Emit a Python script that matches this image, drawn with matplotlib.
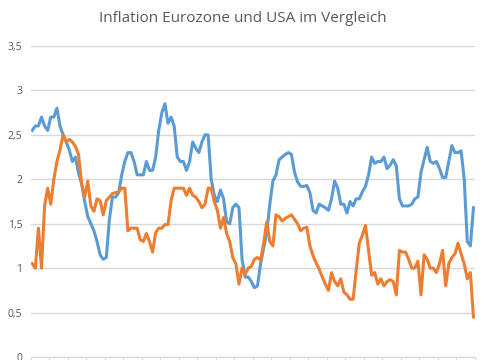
import matplotlib
matplotlib.use("Agg")
import matplotlib.pyplot as plt
import numpy as np

# Inflation (%), one value per two months
usa = [
    2.55, 2.6, 2.6, 2.7, 2.6, 2.55, 2.7, 2.7, 2.8, 2.6,
    2.5, 2.42, 2.33, 2.2, 2.25, 2.07, 1.95, 1.75, 1.58, 1.5,
    1.42, 1.3, 1.15, 1.1, 1.12, 1.55, 1.8, 1.8, 1.85, 2.05,
    2.2, 2.3, 2.3, 2.2, 2.05, 2.05, 2.05, 2.2, 2.1, 2.1,
    2.25, 2.55, 2.75, 2.85, 2.63, 2.7, 2.6, 2.25, 2.2, 2.2,
    2.1, 2.2, 2.42, 2.35, 2.3, 2.42, 2.5, 2.5, 2.0, 1.82,
    1.75, 1.88, 1.78, 1.52, 1.5, 1.68, 1.72, 1.68, 1.1, 0.9,
    0.9, 0.85, 0.78, 0.8, 1.05, 1.22, 1.4, 1.72, 1.98, 2.05,
    2.22, 2.25, 2.28, 2.3, 2.28, 2.08, 1.97, 1.92, 1.92, 1.93,
    1.85, 1.65, 1.62, 1.72, 1.7, 1.68, 1.65, 1.78, 1.98, 1.9,
    1.72, 1.72, 1.62, 1.75, 1.7, 1.78, 1.78, 1.86, 1.92, 2.05,
    2.25, 2.18, 2.2, 2.2, 2.25, 2.12, 2.16, 2.22, 2.15, 1.78,
    1.7, 1.7, 1.7, 1.72, 1.78, 1.8, 2.08, 2.22, 2.36, 2.2,
    2.18, 2.2, 2.12, 2.02, 2.02, 2.2, 2.38, 2.3, 2.3, 2.32,
    2.0, 1.3, 1.25, 1.68,
]
eurozone = [
    1.05, 1.0, 1.45, 1.0, 1.7, 1.9, 1.72, 2.0, 2.2, 2.33,
    2.5, 2.42, 2.45, 2.42, 2.37, 2.28, 1.95, 1.8, 1.98, 1.7,
    1.64, 1.78, 1.76, 1.6, 1.76, 1.8, 1.84, 1.85, 1.86, 1.9,
    1.9, 1.42, 1.45, 1.45, 1.45, 1.32, 1.3, 1.39, 1.3, 1.18,
    1.4, 1.45, 1.45, 1.49, 1.49, 1.76, 1.9, 1.9, 1.9, 1.9,
    1.82, 1.9, 1.82, 1.8, 1.75, 1.68, 1.72, 1.9, 1.9, 1.75,
    1.65, 1.45, 1.57, 1.39, 1.3, 1.12, 1.05, 0.82, 1.0, 0.93,
    1.0, 1.02, 1.1, 1.12, 1.09, 1.28, 1.52, 1.3, 1.25, 1.6,
    1.58, 1.53, 1.56, 1.58, 1.6, 1.55, 1.5, 1.42, 1.45, 1.46,
    1.25, 1.14, 1.06, 0.99, 0.9, 0.82, 0.75, 0.95, 0.85, 0.8,
    0.88, 0.73, 0.7, 0.65, 0.65, 0.98, 1.28, 1.37, 1.48, 1.2,
    0.92, 0.95, 0.82, 0.88, 0.8, 0.85, 0.87, 0.85, 0.7, 1.2,
    1.18, 1.18, 1.1, 1.0, 1.0, 1.08, 0.7, 1.15, 1.1, 1.0,
    1.0, 0.95, 1.05, 1.2, 0.8, 1.05, 1.12, 1.16, 1.28, 1.16,
    1.05, 0.88, 0.95, 0.45,
]
yticks = [0, 0.5, 1, 1.5, 2, 2.5, 3, 3.5]
ytick_labels = ["0", "0,5", "1", "1,5", "2", "2,5", "3", "3,5"]
n_months = 288  # category axis, tick every 12 months

BLUE = "#5B9BD5"
ORANGE = "#ED7D31"
GRID = "#d9d9d9"
TEXT = "#595959"

plt.rcParams["font.family"] = ["Open Sans", "DejaVu Sans"]

fig = plt.figure(figsize=(4.85, 3.6), dpi=100)
ax = fig.add_axes([30.7 / 485, 1 - 357 / 360, (475 - 30.7) / 485, (357 - 46) / 360])

# each value sits in the middle of its two-month bin
x = np.arange(len(usa)) * 2 + 1
ax.plot(x, usa, color=BLUE, lw=2.2, solid_joinstyle="round", zorder=3)
ax.plot(x, eurozone, color=ORANGE, lw=2.2, solid_joinstyle="round", zorder=4)

ax.set_xlim(0, n_months)
ax.set_ylim(0, 3.5)
ax.set_yticks(yticks)
ax.set_yticklabels(ytick_labels)
ax.set_xticks(np.arange(0, n_months + 1, 12))
ax.set_xticklabels([])

ax.grid(axis="y", color=GRID, lw=1)
ax.set_axisbelow(True)
for side in ("top", "right", "left"):
    ax.spines[side].set_visible(False)
ax.spines["bottom"].set_color(GRID)
ax.tick_params(axis="y", length=0, pad=6, labelsize=7.5, labelcolor=TEXT)
ax.tick_params(axis="x", length=4, color=GRID, direction="out")

fig.text(0.5, 1 - 18 / 360, "Inflation Eurozone und USA im Vergleich",
         ha="center", va="center", fontsize=11, color=TEXT)

fig.savefig("out.png", dpi=100)
